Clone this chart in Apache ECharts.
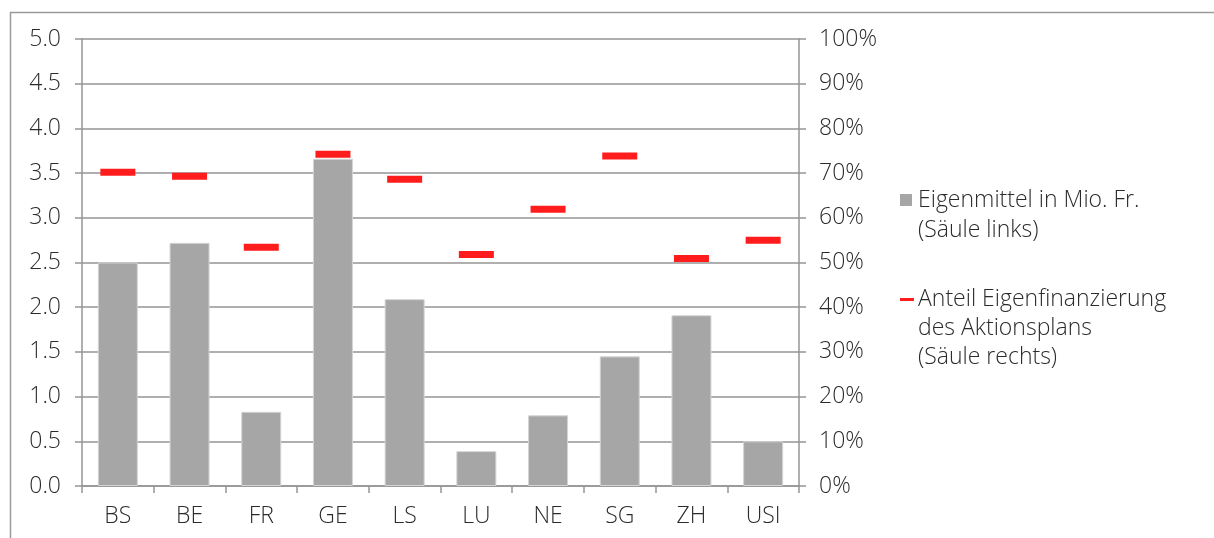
<!DOCTYPE html>
<html>
<head>
<meta charset="utf-8">
<script src="https://cdn.jsdelivr.net/npm/echarts@6/dist/echarts.min.js"></script>
<style>
  html, body { margin: 0; padding: 0; background: #fff; }
  #chart { width: 1214px; height: 538px; }
</style>
</head>
<body>
<div id="chart"></div>
<script>
// Institutions along the x axis
const categories = ['BS', 'BE', 'FR', 'GE', 'LS', 'LU', 'NE', 'SG', 'ZH', 'USI'];
// Own funds in million francs (left axis)
const eigenmittel = [2.50, 2.72, 0.83, 3.66, 2.09, 0.39, 0.79, 1.45, 1.91, 0.50];
// Share of the action plan that is self-financed, in percent (right axis)
const anteil = [70.2, 69.3, 53.4, 74.2, 68.6, 51.8, 61.9, 73.8, 50.9, 55.0];

const seriesNames = ['Eigenmittel in Mio. Fr.\n(Säule links)',
                     'Anteil Eigenfinanzierung\ndes Aktionsplans\n(Säule rechts)'];

const FONT = '"Open Sans", "Liberation Sans", sans-serif';
const FS = 23;
const TEXT = '#2b2b2b';
const LINE = '#959595';
const GREY = '#a6a6a6';
const RED = '#ff1c1c';

const chart = echarts.init(document.getElementById('chart'), null, { renderer: 'canvas' });

const labelStyle = { fontFamily: FONT, fontSize: FS, fontWeight: 300, color: TEXT };

chart.setOption({
  animation: false,
  grid: { left: 82, right: 415, top: 39, bottom: 52, containLabel: false },
  xAxis: {
    type: 'category',
    data: categories,
    axisLine: { lineStyle: { color: LINE, width: 1.5 } },
    axisTick: { show: true, length: 7, lineStyle: { color: LINE, width: 1.5 } },
    axisLabel: Object.assign({ margin: 19 }, labelStyle)
  },
  yAxis: [
    {
      type: 'value', min: 0, max: 5, interval: 0.5,
      axisLine: { show: true, lineStyle: { color: LINE, width: 1.5 } },
      axisTick: { show: true, length: 7, lineStyle: { color: LINE, width: 1.5 } },
      splitLine: { lineStyle: { color: LINE, width: 1.5 } },
      axisLabel: Object.assign({ margin: 21, formatter: v => v.toFixed(1) }, labelStyle)
    },
    {
      type: 'value', min: 0, max: 100, interval: 10, position: 'right',
      axisLine: { show: true, lineStyle: { color: LINE, width: 1.5 } },
      axisTick: { show: true, length: 7, lineStyle: { color: LINE, width: 1.5 } },
      splitLine: { show: false },
      axisLabel: Object.assign({ margin: 20, formatter: v => v + '%' }, labelStyle)
    }
  ],
  series: [
    {
      name: seriesNames[0],
      type: 'bar',
      data: eigenmittel,
      barWidth: 40,
      itemStyle: { color: GREY, borderColor: '#d4d4d4', borderWidth: 1 },
      z: 2
    },
    {
      name: seriesNames[1],
      type: 'scatter',
      yAxisIndex: 1,
      data: anteil,
      symbol: 'rect',
      symbolSize: [35, 7],
      itemStyle: { color: RED, opacity: 1 },
      z: 3
    }
  ],
  graphic: [
    // frame around the chart
    {
      type: 'rect', silent: true, z: -1,
      shape: { x: 10.5, y: 12.5, width: 1300, height: 600 },
      style: { fill: 'none', stroke: '#9a9a9a', lineWidth: 1.5 }
    },
    // legend
    {
      type: 'rect', shape: { x: 900, y: 194, width: 12, height: 12 },
      style: { fill: GREY }
    },
    {
      type: 'text', left: 918, top: 185,
      style: { text: seriesNames[0], fontFamily: FONT, fontSize: FS, fontWeight: 300,
               fill: TEXT, lineHeight: 30 }
    },
    {
      type: 'rect', shape: { x: 900, y: 298, width: 14, height: 3 },
      style: { fill: RED }
    },
    {
      type: 'text', left: 918, top: 285,
      style: { text: seriesNames[1], fontFamily: FONT, fontSize: FS, fontWeight: 300,
               fill: TEXT, lineHeight: 29 }
    }
  ]
});
</script>
</body>
</html>
